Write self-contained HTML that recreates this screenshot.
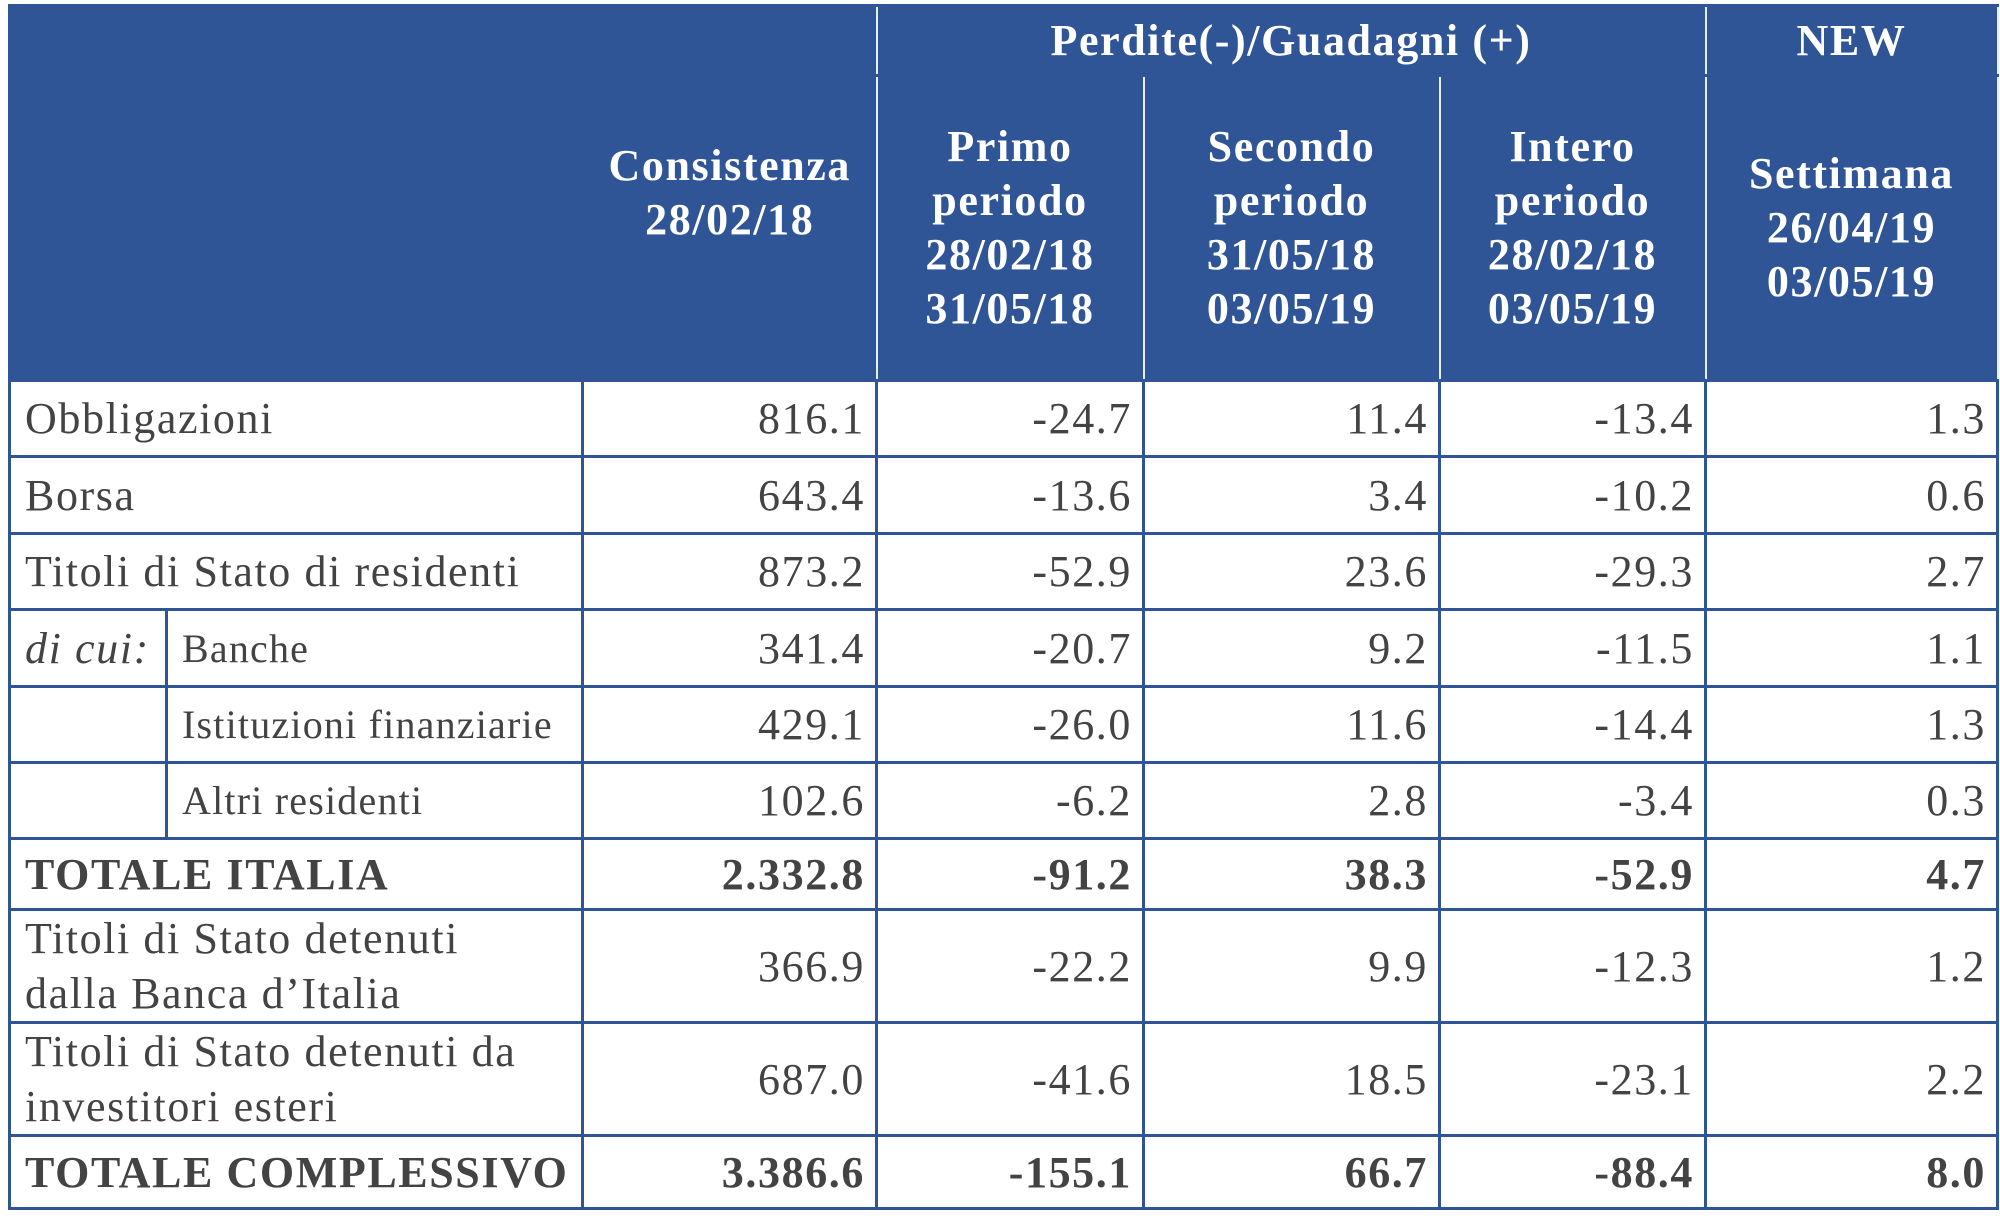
<!DOCTYPE html>
<html><head><meta charset="utf-8">
<style>
html,body{margin:0;padding:0;background:#fff;width:2000px;height:1221px;overflow:hidden}
table{position:absolute;left:8px;top:4px;border-collapse:collapse;table-layout:fixed;font-family:"Liberation Serif",serif;color:#434343}
td,th{border:3px solid #2f5597;padding:0;font-size:44px;letter-spacing:1.6px;white-space:nowrap;overflow:hidden}
th{background:#2f5597;color:#fff;font-weight:bold;line-height:54px;text-align:center;border-color:#2f5597}
th.in{border-left:2px solid #e8eef8;border-right:2px solid #e8eef8}
th.tb{border-bottom:2px solid #e8eef8}
td.n{text-align:right;padding-right:10px}
td.l{padding-left:14px}
td.two{line-height:55px}
td.s{padding-left:14px;font-size:40px;letter-spacing:1.2px}
tr.b td{font-weight:bold}
</style></head><body>
<table>
<colgroup><col style="width:157px"><col style="width:416px"><col style="width:294px"><col style="width:267px"><col style="width:296px"><col style="width:266px"><col style="width:292px"></colgroup>
<tr style="height:70px">
<th colspan="2" rowspan="2"></th>
<th class="in" rowspan="2">Consistenza<br>28/02/18</th>
<th colspan="3" class="in tb">Perdite(-)/Guadagni (+)</th>
<th class="in tb">NEW</th>
</tr>
<tr style="height:305px">
<th class="in">Primo<br>periodo<br>28/02/18<br>31/05/18</th>
<th class="in">Secondo<br>periodo<br>31/05/18<br>03/05/19</th>
<th class="in">Intero<br>periodo<br>28/02/18<br>03/05/19</th>
<th class="in">Settimana<br>26/04/19<br>03/05/19</th>
</tr>
<tr style="height:76px"><td colspan="2" class="l">Obbligazioni</td><td class="n">816.1</td><td class="n">-24.7</td><td class="n">11.4</td><td class="n">-13.4</td><td class="n">1.3</td></tr>
<tr style="height:77px"><td colspan="2" class="l">Borsa</td><td class="n">643.4</td><td class="n">-13.6</td><td class="n">3.4</td><td class="n">-10.2</td><td class="n">0.6</td></tr>
<tr style="height:76px"><td colspan="2" class="l">Titoli di Stato di residenti</td><td class="n">873.2</td><td class="n">-52.9</td><td class="n">23.6</td><td class="n">-29.3</td><td class="n">2.7</td></tr>
<tr style="height:77px"><td class="l"><i>di cui:</i></td><td class="s">Banche</td><td class="n">341.4</td><td class="n">-20.7</td><td class="n">9.2</td><td class="n">-11.5</td><td class="n">1.1</td></tr>
<tr style="height:76px"><td></td><td class="s">Istituzioni finanziarie</td><td class="n">429.1</td><td class="n">-26.0</td><td class="n">11.6</td><td class="n">-14.4</td><td class="n">1.3</td></tr>
<tr style="height:76px"><td></td><td class="s">Altri residenti</td><td class="n">102.6</td><td class="n">-6.2</td><td class="n">2.8</td><td class="n">-3.4</td><td class="n">0.3</td></tr>
<tr class="b" style="height:71px"><td colspan="2" class="l">TOTALE ITALIA</td><td class="n">2.332.8</td><td class="n">-91.2</td><td class="n">38.3</td><td class="n">-52.9</td><td class="n">4.7</td></tr>
<tr style="height:112px"><td colspan="2" class="l two">Titoli di Stato detenuti<br>dalla Banca d’Italia</td><td class="n">366.9</td><td class="n">-22.2</td><td class="n">9.9</td><td class="n">-12.3</td><td class="n">1.2</td></tr>
<tr style="height:111px"><td colspan="2" class="l two">Titoli di Stato detenuti da<br>investitori esteri</td><td class="n">687.0</td><td class="n">-41.6</td><td class="n">18.5</td><td class="n">-23.1</td><td class="n">2.2</td></tr>
<tr class="b" style="height:73px"><td colspan="2" class="l">TOTALE COMPLESSIVO</td><td class="n">3.386.6</td><td class="n">-155.1</td><td class="n">66.7</td><td class="n">-88.4</td><td class="n">8.0</td></tr>
</table>
</body></html>
